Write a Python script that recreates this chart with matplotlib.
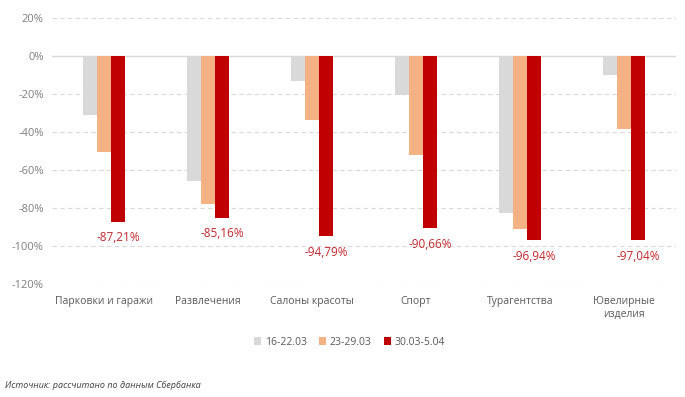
import matplotlib
matplotlib.use("Agg")
import matplotlib.pyplot as plt
import numpy as np

categories = ["Парковки и гаражи", "Развлечения", "Салоны красоты", "Спорт",
              "Турагентства", "Ювелирные\nизделия"]
series_names = ["16-22.03", "23-29.03", "30.03-5.04"]
week1 = [-31, -66, -13, -20.5, -82.5, -10]
week2 = [-50.5, -78, -34, -52, -91, -38.5]
week3 = [-87.21, -85.16, -94.79, -90.66, -96.94, -97.04]
week3_labels = ["-87,21%", "-85,16%", "-94,79%", "-90,66%", "-96,94%", "-97,04%"]
yticks = [20, 0, -20, -40, -60, -80, -100, -120]

colors = ["#d9d9d9", "#f4b183", "#c00000"]

plt.rcParams['font.family'] = ['Open Sans', 'DejaVu Sans']

fig = plt.figure(figsize=(6.85, 3.97), dpi=100)
ax = fig.add_axes([0.076, 0.285, 0.911, 0.67])

x = np.arange(len(categories))
w = 0.135
for i, (vals, name, c) in enumerate(zip([week1, week2, week3], series_names, colors)):
    ax.bar(x + (i - 1) * w, vals, width=w, color=c, label=name, zorder=3)

# подписи только для последней недели, под красным столбцом
for xi, v, lab in zip(x, week3, week3_labels):
    ax.annotate(lab, (xi + w, v), xytext=(0, -7), textcoords="offset points",
                ha="center", va="top", color="#c0272d", fontsize=8.5)

ax.set_ylim(-120, 20)
ax.set_xlim(-0.5, len(categories) - 0.5)
ax.set_yticks(yticks)
ax.set_yticklabels([f"{t}%" for t in yticks])
for t in yticks:
    if t == 0:
        ax.axhline(0, color="#d9d9d9", lw=1, zorder=2)
    else:
        ax.axhline(t, color="#d9d9d9", lw=0.8, ls=(0, (4, 3)), zorder=1)

ax.set_xticks(x)
ax.set_xticklabels(categories, fontsize=7.5, color="#595959")
ax.tick_params(axis="y", labelsize=8, labelcolor="#7f7f7f", length=0, pad=6)
ax.tick_params(axis="x", length=0, pad=9)
for s in ax.spines.values():
    s.set_visible(False)

fig.legend(loc="center", bbox_to_anchor=(0.51, 0.138), ncol=3, frameon=False,
           fontsize=7.5, handlelength=0.7, handleheight=0.7, handletextpad=0.3,
           columnspacing=1.2, labelcolor="#595959")

fig.text(0.008, 0.022, "Источник: рассчитано по данным Сбербанка", fontsize=6.5,
         style="italic", color="#404040")

fig.savefig("out.png", dpi=100)
